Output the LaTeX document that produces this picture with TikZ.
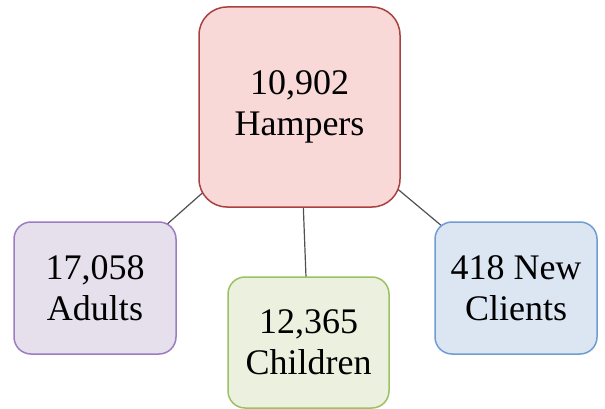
\documentclass[tikz,border=0pt]{standalone}
\usepackage{fontspec}
\setmainfont{Liberation Serif}
\usetikzlibrary{backgrounds}
\definecolor{mainfill}{HTML}{F9D8D8}
\definecolor{mainline}{HTML}{A8413F}
\definecolor{adfill}{HTML}{E5E0EC}
\definecolor{adline}{HTML}{9A7EC0}
\definecolor{chfill}{HTML}{EBF1DE}
\definecolor{chline}{HTML}{9DC063}
\definecolor{clfill}{HTML}{DCE6F2}
\definecolor{clline}{HTML}{709CD4}
\definecolor{conn}{HTML}{505050}
\tikzset{
  box/.style={draw, line width=1.5pt, align=center, inner sep=0pt,
    font=\fontsize{36}{40.5}\selectfont, text=black},
  smallbox/.style={box, minimum width=162pt, minimum height=132pt, rounded corners=17pt},
  link/.style={draw=conn, line width=1.2pt}
}
\begin{document}
\begin{tikzpicture}[x=1pt,y=-1pt]
\useasboundingbox (0,0) rectangle (605,409);
\node[box, fill=mainfill, draw=mainline, minimum width=201pt, minimum height=200pt, rounded corners=28pt] (main) at (299.5,107) {10,902\\Hampers};
\node[smallbox, fill=adfill, draw=adline] (adults) at (95,288) {17,058\\Adults};
\node[smallbox, fill=chfill, draw=chline, minimum width=161pt, minimum height=131pt] (children) at (308.5,342.5) {12,365\\Children};
\node[smallbox, fill=clfill, draw=clline] (clients) at (516,288) {418 New\\Clients};
\begin{scope}[on background layer]
\draw[link] (main.center) -- (adults.center);
\draw[link] (main.center) -- (children.center);
\draw[link] (main.center) -- (clients.center);
\end{scope}
\end{tikzpicture}
\end{document}
